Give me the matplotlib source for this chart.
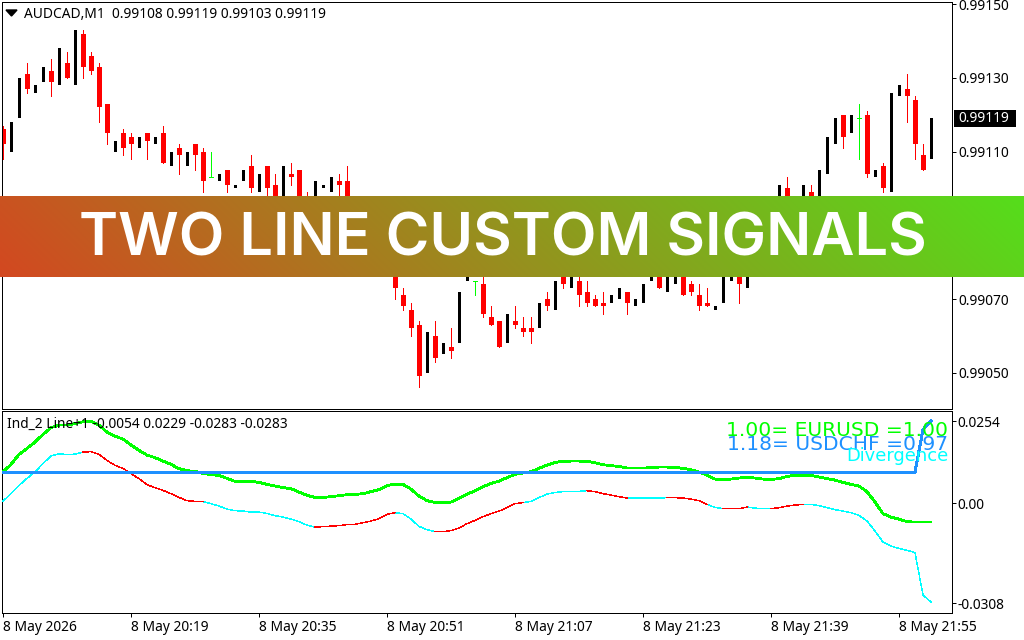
import numpy as np
import matplotlib
matplotlib.use('Agg')
import matplotlib.pyplot as plt
from matplotlib.patches import Rectangle

W, H = 1024, 640

# candles in price points (0.00001), black bars show no wick
# (open, high, low, close)
candles = [
    (99116,99117,99108,99112),(99110,99118,99110,99118),(99119,99130,99119,99130),(99131,99134,99126,99127),
    (99126,99128,99126,99128),(99129,99133,99129,99133),(99132,99135,99125,99129),(99128,99138,99128,99138),
    (99134,99137,99130,99130),(99128,99143,99128,99143),(99142,99143,99130,99133),(99136,99137,99131,99132),
    (99133,99134,99118,99122),(99123,99123,99112,99115),(99110,99113,99110,99113),(99115,99116,99109,99111),
    (99114,99115,99108,99112),(99111,99114,99111,99114),(99115,99115,99108,99113),(99112,99114,99112,99114),
    (99115,99117,99107,99107),(99106,99110,99106,99110),(99111,99112,99104,99109),(99106,99110,99106,99110),
    (99112,99112,99105,99109),(99110,99111,99099,99102),(99103,99110,99103,99103),(99102,99104,99102,99104),
    (99105,99105,99099,99101),(99100,99101,99100,99101),(99102,99105,99102,99105),(99106,99109,99099,99100),
    (99099,99104,99099,99104),(99106,99106,99098,99100),(99101,99104,99096,99097),(99097,99106,99097,99106),
    (99104,99107,99101,99103),(99105,99105,99095,99096),(99098,99099,99096,99097),(99097,99102,99097,99102),
    (99100,99101,99100,99101),(99099,99103,99099,99103),(99102,99104,99098,99101),(99102,99106,99092,99094),
    (99092,99096,99092,99095),(99095,99096,99089,99090),(99098,99098,99087,99088),(99087,99090,99087,99090),
    (99090,99091,99081,99082),(99080,99082,99070,99073),(99071,99073,99067,99068),(99067,99069,99060,99062),
    (99063,99064,99046,99049),(99050,99061,99050,99061),(99060,99064,99053,99054),(99055,99058,99055,99058),
    (99057,99062,99054,99056),(99058,99072,99058,99072),(99075,99079,99075,99079),(99075,99075,99071,99075),
    (99074,99077,99065,99066),(99065,99068,99063,99063),(99064,99064,99057,99057),(99058,99066,99058,99066),
    (99064,99068,99062,99063),(99062,99065,99060,99061),(99062,99065,99058,99061),(99062,99069,99062,99069),
    (99070,99072,99067,99068),(99067,99075,99067,99075),(99077,99078,99073,99074),(99073,99079,99073,99079),
    (99075,99077,99068,99071),(99072,99075,99068,99069),(99070,99071,99068,99068),(99069,99072,99066,99068),
    (99069,99071,99069,99071),(99070,99073,99070,99073),(99072,99072,99066,99069),(99068,99070,99068,99070),
    (99069,99074,99069,99074),(99075,99078,99075,99078),(99077,99078,99073,99073),(99072,99076,99072,99076),
    (99074,99078,99074,99078),(99077,99078,99071,99071),(99074,99075,99071,99072),(99071,99074,99067,99068),
    (99069,99073,99068,99068),(99067,99068,99067,99068),(99069,99077,99069,99077),(99075,99077,99075,99077),
    (99077,99078,99069,99074),(99073,99078,99073,99078),(99078,99085,99078,99085),(99085,99090,99085,99090),
    (99090,99091,99086,99087),(99090,99101,99090,99101),(99100,99103,99095,99096),(99092,99096,99092,99096),
    (99098,99101,99098,99101),(99099,99101,99095,99096),(99096,99105,99096,99105),(99104,99114,99104,99114),
    (99112,99119,99112,99119),(99120,99120,99111,99114),(99115,99120,99115,99120),(99119,99123,99108,99119),
    (99120,99121,99103,99104),(99103,99105,99103,99105),(99106,99107,99099,99100),(99099,99126,99099,99126),
    (99125,99128,99125,99128),(99127,99131,99118,99125),(99124,99125,99108,99112),(99109,99112,99105,99105),
    (99108,99119,99108,99119),
]

# indicator lines, in units of 0.00001
fast_line = [
    966,1204,1512,1697,1892,2129,2336,2416,2416,2460,2521,2540,2416,2200,2077,1984,1799,1636,1491,1410,
    1305,1204,1071,1009,988,926,886,864,772,679,679,679,648,586,534,485,454,349,247,185,
    185,207,238,268,278,299,361,423,546,596,586,441,225,83,31,31,40,164,278,392,
    515,617,688,793,895,935,978,1080,1182,1265,1296,1305,1305,1296,1256,1194,1163,1142,1089,1089,
    1089,1102,1120,1120,1111,1080,1040,966,873,750,741,750,781,802,781,750,741,762,833,864,
    873,864,812,762,719,648,586,534,361,40,-318,-423,-485,-565,-577,-577,-577,
]
slow_line = [
    71,299,555,772,966,1234,1460,1534,1503,1521,1583,1595,1512,1327,1173,1080,917,762,577,485,
    401,299,185,83,62,52,-9,-83,-176,-225,-238,-268,-268,-309,-380,-423,-485,-565,-670,-731,
    -719,-701,-688,-657,-648,-596,-546,-472,-339,-287,-318,-485,-710,-812,-873,-873,-842,-762,-626,-525,
    -410,-318,-238,-133,-9,22,62,176,287,339,361,370,370,392,361,299,256,207,164,164,
    164,164,164,176,176,164,133,83,-31,-123,-164,-164,-164,-114,-145,-164,-164,-133,-83,-52,
    -31,-31,-71,-133,-194,-238,-287,-370,-546,-855,-1194,-1318,-1389,-1450,-1521,-2830,-3046,
]
level_line = [966] * 115 + [2280, 2540]
# bar ranges where the thin line is red, cyan elsewhere
red_spans = [(10,25),(39,49),(54,65),(73,78),(83,88),(90,93),(96,100)]

price_ticks = [99150, 99130, 99110, 99070, 99050]
price_labels = ['0.99150', '0.99130', '0.99110', '0.99070', '0.99050']
ind_ticks = [0.0254, 0.0, -0.0308]
ind_labels = ['0.0254', '0.00', '-0.0308']
time_ticks = [0, 16, 32, 48, 64, 80, 96, 112]
time_labels = ['8 May 2026', '8 May 20:19', '8 May 20:35', '8 May 20:51',
               '8 May 21:07', '8 May 21:23', '8 May 21:39', '8 May 21:55']

FONT = 'Noto Sans'
FS = 9.9


def px_axes(left, top, right, bottom):
    return fig.add_axes([left / W, 1 - bottom / H, (right - left) / W, (bottom - top) / H])


def fig_text(x, y, s, **kw):
    # position in picture pixels, from the top left
    fig.text(x / W, 1 - y / H, s, va='center', **kw)


def setup(ax):
    for s in ax.spines.values():
        s.set_linewidth(0.72)
    ax.yaxis.tick_right()
    ax.tick_params(axis='y', length=2.6, width=0.72, pad=1.5, labelsize=FS)
    ax.set_xlim(-0.1, 118.65)


plt.rcParams['font.family'] = [FONT, 'DejaVu Sans']
fig = plt.figure(figsize=(W / 100, H / 100), dpi=100)

# ---- price panel
ax = px_axes(2.2, 2.2, 952.2, 409.2)
setup(ax)
ax.set_ylim(99040.1, 99150.54)
for i, (o, h, l, c) in enumerate(candles):
    if o == c:
        col = '#00ff00'
        ax.vlines(i, l, h, color=col, lw=0.72, antialiased=False)
        ax.hlines(c, i - 0.3, i + 0.3, color=col, lw=0.72, antialiased=False)
    elif c > o:
        ax.bar(i, c - o, bottom=o, width=3 / 8, color='black', antialiased=False)
    else:
        ax.vlines(i, l, h, color='#ff0000', lw=0.72, antialiased=False)
        ax.bar(i, o - c, bottom=c, width=5 / 8, color='#ff0000', antialiased=False)
ax.set_xticks([])
ax.set_yticks(price_ticks)
ax.set_yticklabels(price_labels)

fig.add_artist(Rectangle((954 / W, 1 - 127 / H), 62 / W, 17 / H, facecolor='black', edgecolor='none',
                         transform=fig.transFigure))
fig_text(958, 118.5, '0.99119', color='white', fontsize=FS)
fig_text(24, 14, 'AUDCAD,M1  0.99108 0.99119 0.99103 0.99119', fontsize=FS)
fig.add_artist(plt.Polygon([[6 / W, 1 - 10 / H], [17 / W, 1 - 10 / H], [11.5 / W, 1 - 16 / H]], color='black',
                           transform=fig.transFigure))

# ---- indicator panel
ax2 = px_axes(2.2, 411.2, 952.2, 613.2)
setup(ax2)
ax2.set_ylim(-0.0339, 0.02845)
x = np.arange(len(fast_line))
fast = np.array(fast_line) * 1e-5
slow = np.array(slow_line) * 1e-5
level = np.array(level_line) * 1e-5
ax2.plot(x, fast, color='#00ff00', lw=1.3, antialiased=False, zorder=3)
ax2.plot(x, slow, color='#00ffff', lw=0.3, antialiased=False, zorder=3)
for a, b in red_spans:
    ax2.plot(x[a:b + 1], slow[a:b + 1], color='#ff0000', lw=0.3, antialiased=False, zorder=3.1)
ax2.plot(x, level, color='#1e90ff', lw=1.44, antialiased=False, zorder=4)
ax2.set_yticks(ind_ticks)
ax2.set_yticklabels(ind_labels)
ax2.set_xticks(time_ticks)
ax2.set_xticklabels(time_labels, ha='left', fontsize=FS)
ax2.tick_params(axis='x', length=2.6, width=0.72, pad=2)
ax2.tick_params(axis='y', pad=1)

fig_text(7, 424, 'Ind_2 Line+1 -0.0054 0.0229 -0.0283 -0.0283', fontsize=FS)
fig_text(948, 431, '1.00= EURUSD =1.00', color='#00ff00', family='DejaVu Sans', fontsize=14.6, ha='right')
fig_text(948, 445, '1.18= USDCHF =0.97', color='#1e90ff', family='DejaVu Sans', fontsize=14.6, ha='right')
fig_text(948, 456, 'Divergence', color='#00ffff', family='DejaVu Sans', fontsize=12.9, ha='right')

# ---- banner over the chart, colour runs slightly on the diagonal
ban = px_axes(0, 196, 1024, 277)
ban.set_axis_off()
gx, gy = np.meshgrid(np.linspace(0, 1024, 512), np.linspace(81, 0, 41))
ramp = ((gx + gy) / (1024 + 81))[:, :, None]
left_col = np.array([211, 72, 33]) / 255
right_col = np.array([85, 222, 27]) / 255
ban.imshow(left_col + (right_col - left_col) * ramp, aspect='auto', extent=(0, 1, 0, 1))
ban.text(0.491, 0.46, 'TWO LINE CUSTOM SIGNALS', color='white', fontsize=42.8, family='Inter',
         fontweight='semibold', ha='center', va='center')

fig.savefig('out.png', dpi=100)
